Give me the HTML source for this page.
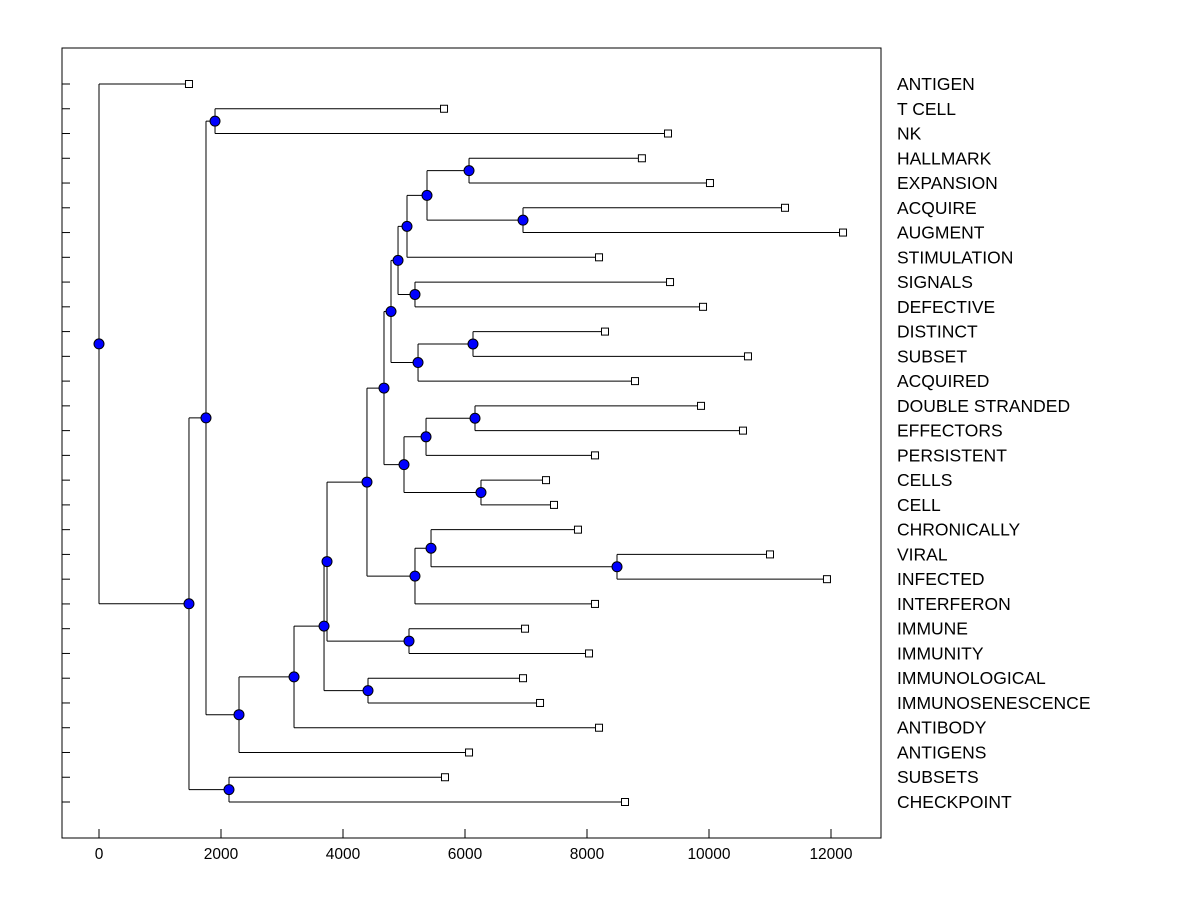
<!DOCTYPE html>
<html><head><meta charset="utf-8"><style>
html,body{margin:0;padding:0;background:#fff;}
svg{display:block;font-family:"Liberation Sans",Arial,sans-serif;}
</style></head><body>
<svg id="chart" width="1200" height="900">
<rect x="62" y="48" width="819" height="790" fill="none" stroke="#000" stroke-width="1"/>
<g id="g"></g>
</svg>
<script>
const leafNames = ["ANTIGEN","T CELL","NK","HALLMARK","EXPANSION","ACQUIRE","AUGMENT","STIMULATION","SIGNALS","DEFECTIVE","DISTINCT","SUBSET","ACQUIRED","DOUBLE STRANDED","EFFECTORS","PERSISTENT","CELLS","CELL","CHRONICALLY","VIRAL","INFECTED","INTERFERON","IMMUNE","IMMUNITY","IMMUNOLOGICAL","IMMUNOSENESCENCE","ANTIBODY","ANTIGENS","SUBSETS","CHECKPOINT"];
const leafValues = [1475,5656,9328,8900,10016,11246,12197,8197,9361,9902,8295,10639,8787,9869,10557,8131,7328,7459,7852,11000,11934,8131,6984,8033,6951,7230,8197,6066,5672,8623];
const nodeNames = ["U","V","T","R","S","P","W","Q","N","Z","X","Y","O","L","BB","AA","M","K","J","I","H","G","F","E","D","B","C","A","root"];
const nodeHeights = [6066,6951,5377,5049,5180,4902,6131,5230,4787,6164,5361,6262,5000,4672,8492,5443,5180,4393,5082,4410,3738,3689,3197,2295,1902,1754,2131,1475,0];
const nodeChildren = [[3,4],[5,6],["U","V"],["T",7],[8,9],["R","S"],[10,11],["W",12],["P","Q"],[13,14],["Z",15],[16,17],["X","Y"],["N","O"],[19,20],[18,"BB"],["AA",21],["L","M"],[22,23],[24,25],["K","J"],["H","I"],["G",26],["F",27],[1,2],["D","E"],[28,29],["B","C"],[0,"A"]];
const xTicks = [0,2000,4000,6000,8000,10000,12000];

const X = v => 99 + v*0.061;
const Y = i => 84 + i*(802-84)/(leafNames.length-1);
const NS="http://www.w3.org/2000/svg";
const g=document.getElementById('g');
function mk(t,a){const e=document.createElementNS(NS,t);for(const k in a)e.setAttribute(k,a[k]);g.appendChild(e);return e;}

leafNames.forEach((n,i)=>{
  const t=mk('line',{x1:62,x2:70,y1:Y(i),y2:Y(i),stroke:'#000'});
  
  
  const l=mk('text',{x:897,y:Y(i)+6,'font-size':17.5,fill:'#000'});
  l.textContent=n;
  
  
});
xTicks.forEach(v=>{
  const t=mk('line',{x1:X(v),x2:X(v),y1:838,y2:829,stroke:'#000'});
  
  
  const l=mk('text',{x:X(v),y:859,'font-size':15.5,'text-anchor':'middle',fill:'#000'});
  l.textContent=v;
  
  
});

const pos={};
function P(c){ if(typeof c==='number') return {x:X(leafValues[c]),y:Y(c)}; return pos[c]; }
const circles=[];
nodeNames.forEach((n,k)=>{
  const a=P(nodeChildren[k][0]), b=P(nodeChildren[k][1]);
  const x=X(nodeHeights[k]);
  const y=(a.y+b.y)/2;
  pos[n]={x,y};
  const v=mk('line',{x1:x,x2:x,y1:a.y,y2:b.y,stroke:'#000'});
  
  
  [a,b].forEach(c=>{
    const h=mk('line',{x1:x,x2:c.x,y1:c.y,y2:c.y,stroke:'#000'});
    
    
  });
  circles.push({x,y});
});
circles.forEach(c=>{
  const e=mk('circle',{cx:c.x,cy:c.y,r:5,fill:'#0000ff',stroke:'#000','stroke-width':1});
  
  
});
leafValues.forEach((v,i)=>{
  const e=mk('rect',{x:X(v)-3.5,y:Y(i)-3.5,width:7,height:7,fill:'#fff',stroke:'#000'});
  
  
});
</script>
</body></html>
